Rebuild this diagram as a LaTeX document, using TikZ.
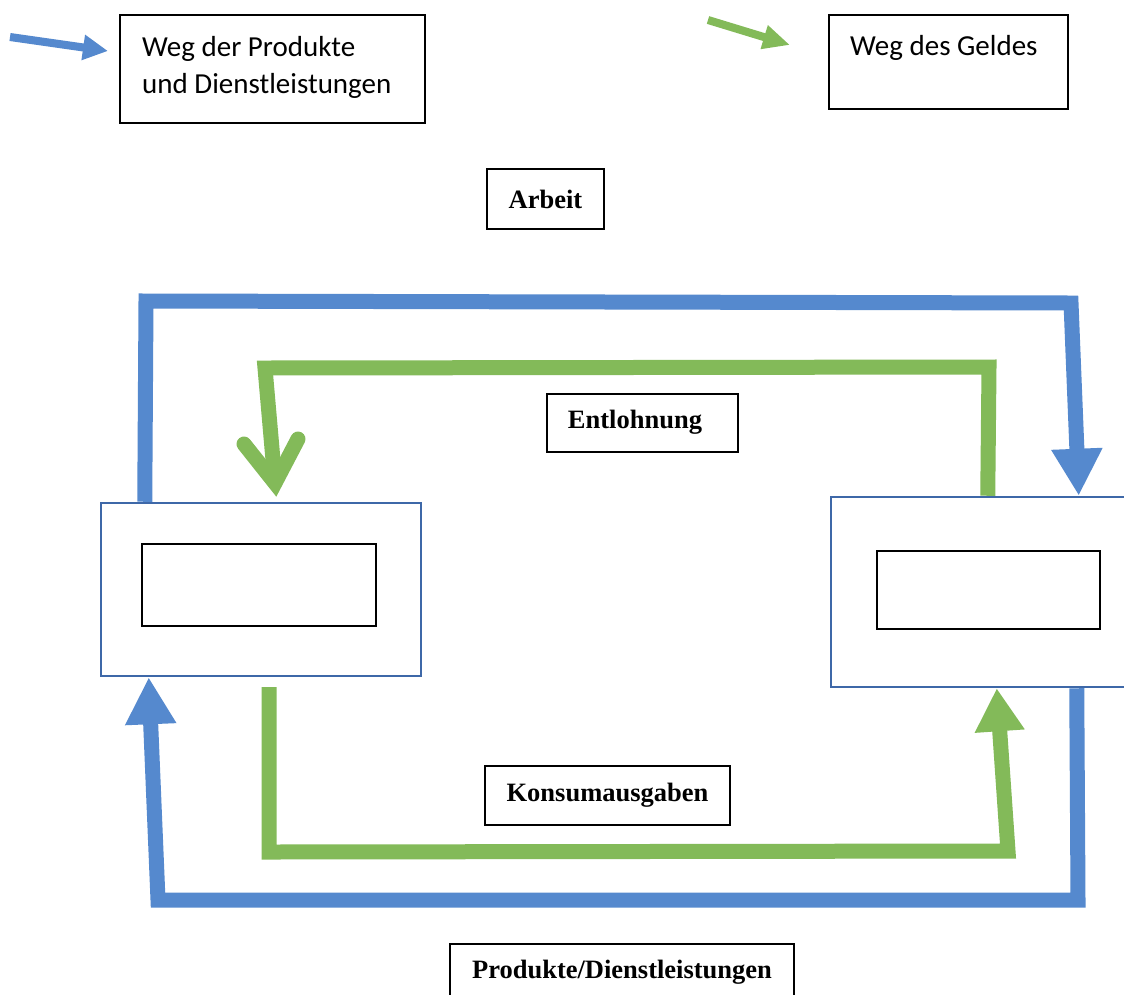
\documentclass[tikz,border=0pt]{standalone}
\usepackage{fontspec}
\setmainfont{Liberation Serif}
\newfontfamily\legendfont{Carlito}
\usetikzlibrary{arrows.meta}
\definecolor{flowblue}{RGB}{85,137,206}
\definecolor{flowgreen}{RGB}{131,186,89}
\definecolor{boxblue}{RGB}{62,104,168}
\begin{document}
\begin{tikzpicture}[x=1pt,y=-1pt,
  labelbox/.style={draw=black, line width=2pt, inner sep=0pt, font=\fontsize{26.5}{30}\selectfont\bfseries},
  legendbox/.style={draw=black, line width=2pt, inner sep=0pt},
  agentbox/.style={draw=boxblue, line width=2.5pt, inner sep=0pt},
  innerbox/.style={draw=black, line width=2pt, inner sep=0pt},
  legendtext/.style={font=\legendfont\fontsize{29}{35}\selectfont, inner sep=0pt},
  blueflow/.style={draw=flowblue, line width=15pt, line join=miter},
  greenflow/.style={draw=flowgreen, line width=15pt, line join=miter},
  bluetip/.style={-{Triangle[length=47pt,width=48pt]}},
  greentip/.style={-{Triangle[length=43pt,width=47pt]}},
  legendarrowblue/.style={draw=flowblue, line width=8pt, -{Triangle[length=25pt,width=24pt]}},
  legendarrowgreen/.style={draw=flowgreen, line width=8pt, -{Triangle[length=27pt,width=23pt]}}
]
\useasboundingbox (0,0) rectangle (1124,994);
\clip (0,0) rectangle (1124,994);
\fill[white] (0,0) rectangle (1124,994);

% legend
\node[legendbox, minimum width=305pt, minimum height=108pt] (legA) at (272.5,69) {};
\node[legendtext, anchor=base west] (legAt1) at (142,56) {Weg der Produkte};
\node[legendtext, anchor=base west] (legAt2) at (142,93) {und Dienstleistungen};
\coordinate (lbS) at (10,37);
\coordinate (lbE) at (108,51);
\draw[legendarrowblue] (lbS) -- (lbE);

\node[legendbox, minimum width=239pt, minimum height=94pt] (legB) at (948.5,62) {};
\node[legendtext, anchor=base west] (legBt) at (850,55) {Weg des Geldes};
\coordinate (lgS) at (708,20);
\coordinate (lgE) at (790,45);
\draw[legendarrowgreen] (lgS) -- (lgE);

% label boxes
\node[labelbox, minimum width=117pt, minimum height=60pt] (arbeit) at (545.5,199) {Arbeit};
\node[labelbox, minimum width=191pt, minimum height=58pt] (lohn) at (642.5,423) {};
\node[font=\fontsize{26.5}{30}\selectfont\bfseries, inner sep=0pt] (lohnt) at (635,422) {Entlohnung};
\node[labelbox, minimum width=245pt, minimum height=59pt] (konsum) at (607.5,795.5) {Konsumausgaben};
\node[labelbox, minimum width=344pt, minimum height=56pt] (produkte) at (622,972) {Produkte/Dienstleistungen};

% agent boxes
\node[agentbox, minimum width=320pt, minimum height=173pt] (hh) at (261,589.5) {};
\node[innerbox, minimum width=234pt, minimum height=82pt] (hhin) at (259,585) {};
\node[agentbox, minimum width=309pt, minimum height=190pt] (ut) at (985.5,592) {};
\node[innerbox, minimum width=223pt, minimum height=78pt] (utin) at (988.5,590) {};

% blue flow
\coordinate (b1) at (146,301);
\coordinate (b2) at (1071,303);
\draw[blueflow, bluetip] ([xshift=45pt]hh.north west) -- (b1) -- (b2) -- ([xshift=249pt]ut.north west);
\coordinate (b3) at (1078,900);
\coordinate (b4) at (158,900);
\draw[blueflow, bluetip] ([xshift=247pt]ut.south west) -- (b3) -- (b4) -- ([xshift=49pt]hh.south west);

% green flow
\coordinate (g1) at (989,367);
\coordinate (g2) at (265,368);
\coordinate (gv) at (275,483);
\draw[greenflow] ([xshift=158pt]ut.north west) -- (g1) -- (g2) -- (gv);
\coordinate (gvl) at (244,444);
\coordinate (gvr) at (298,439);
\draw[greenflow, line cap=round] (gvl) -- (gv) -- (gvr);
\coordinate (g3) at (269,687);
\coordinate (g4) at (269,852);
\coordinate (g5) at (1008,851);
\draw[greenflow, greentip] (g3) -- (g4) -- (g5) -- ([xshift=167pt]ut.south west);
\end{tikzpicture}
\end{document}
